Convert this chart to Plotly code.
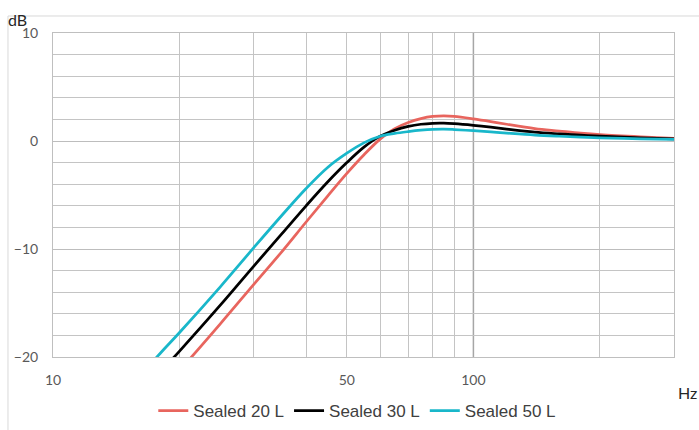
import plotly.graph_objects as go

# ---- data ----
freq_hz = [15, 18, 20, 25, 30, 35, 40, 45, 50, 55, 60, 65, 70, 75, 80, 85, 90,
           100, 110, 120, 140, 160, 180, 200, 250, 300]
sealed_20 = [-26.5, -23.2, -21.25, -16.93, -13.3, -10.26, -7.5, -5.1, -3.0, -1.25, 0.17,
             1.15, 1.72, 2.08, 2.28, 2.32, 2.28, 2.05, 1.8, 1.55, 1.15, 0.92,
             0.72, 0.58, 0.38, 0.25]
sealed_30 = [-24.7, -21.4, -19.45, -15.2, -11.6, -8.6, -6.0, -3.8, -2.0, -0.55, 0.45,
             1.0, 1.35, 1.55, 1.64, 1.65, 1.6, 1.45, 1.28, 1.1, 0.82, 0.66,
             0.54, 0.45, 0.3, 0.2]
sealed_50 = [-23.05, -19.65, -17.73, -13.5, -9.9, -6.9, -4.4, -2.45, -1.13, -0.15, 0.44,
             0.7, 0.87, 1.0, 1.08, 1.1, 1.06, 0.95, 0.84, 0.73, 0.55, 0.44,
             0.36, 0.3, 0.2, 0.15]
series_names = ["Sealed 20 L", "Sealed 30 L", "Sealed 50 L"]
series_colors = ["#E8655E", "#000000", "#19B7CA"]

x_tick_vals = [10, 50, 100]
x_tick_text = ["10", "50", "100"]
x_minor_vals = [20, 30, 40, 50, 60, 70, 80, 90, 200, 300]
y_tick_vals = [-20, -10, 0, 10]

fig = go.Figure()
for name, ys, col in zip(series_names, [sealed_20, sealed_30, sealed_50], series_colors):
    fig.add_trace(go.Scatter(x=freq_hz, y=ys, name=name, mode="lines",
                             line=dict(color=col, width=2.75, shape="spline", smoothing=1.0)))

tick_font = dict(family="Lato, Liberation Sans, sans-serif", size=14, color="#595959")

fig.update_layout(
    width=699, height=430,
    margin=dict(l=53, r=25, t=33, b=73, autoexpand=False),
    paper_bgcolor="white", plot_bgcolor="white",
    showlegend=True,
    legend=dict(orientation="h", x=0.49, xanchor="center", y=-0.167, yanchor="middle",
                font=dict(family="Liberation Sans Narrow, Arial Narrow, Liberation Sans, sans-serif",
                          size=17, color="#404040"),
                itemwidth=30, tracegroupgap=0, bgcolor="rgba(0,0,0,0)"),
    xaxis=dict(type="log", range=[1, 2.47712], tickmode="array",
               tickvals=x_tick_vals, ticktext=x_tick_text, showgrid=False,
               ticks="", ticklabelstandoff=10, tickfont=tick_font,
               showline=True, linecolor="#BFBFBF", linewidth=1, mirror=True,
               zeroline=False,
               minor=dict(tickmode="array", tickvals=x_minor_vals, showgrid=True,
                          gridcolor="#C4C4C4", gridwidth=1, ticks="")),
    yaxis=dict(range=[-20, 10], tickmode="array", tickvals=y_tick_vals,
               showgrid=True, gridcolor="#BDBDBD", gridwidth=1,
               ticks="", ticklabelstandoff=11, tickfont=tick_font,
               showline=True, linecolor="#BFBFBF", linewidth=1, mirror=True,
               zeroline=False,
               minor=dict(dtick=2, showgrid=True, gridcolor="#C4C4C4", gridwidth=1, ticks="")),
    annotations=[
        dict(text="dB", xref="paper", yref="paper", x=-0.076, y=1.043,
             xanchor="left", yanchor="middle", showarrow=False,
             font=dict(family="Lato, Liberation Sans, sans-serif", size=16, color="#262626")),
        dict(text="Hz", xref="paper", yref="paper", x=1.0225, y=-0.111,
             xanchor="center", yanchor="middle", showarrow=False,
             font=dict(family="Lato, Liberation Sans, sans-serif", size=16, color="#262626")),
    ],
    shapes=[
        # darker decade gridline at 100 Hz
        dict(type="line", xref="x", yref="paper", x0=100, x1=100, y0=0, y1=1,
             line=dict(color="#A6A6A6", width=1.5), layer="below"),
        # outer chart-area border (light)
        dict(type="rect", xref="paper", yref="paper", x0=-0.0725, x1=1.2,
             y0=-0.5, y1=1.0525, line=dict(color="#D9D9D9", width=1),
             fillcolor="rgba(0,0,0,0)", layer="below"),
    ],
)

fig.write_html("out.html", config={"displayModeBar": False},
               post_script="document.body.style.margin='0';document.body.style.padding='0';")
